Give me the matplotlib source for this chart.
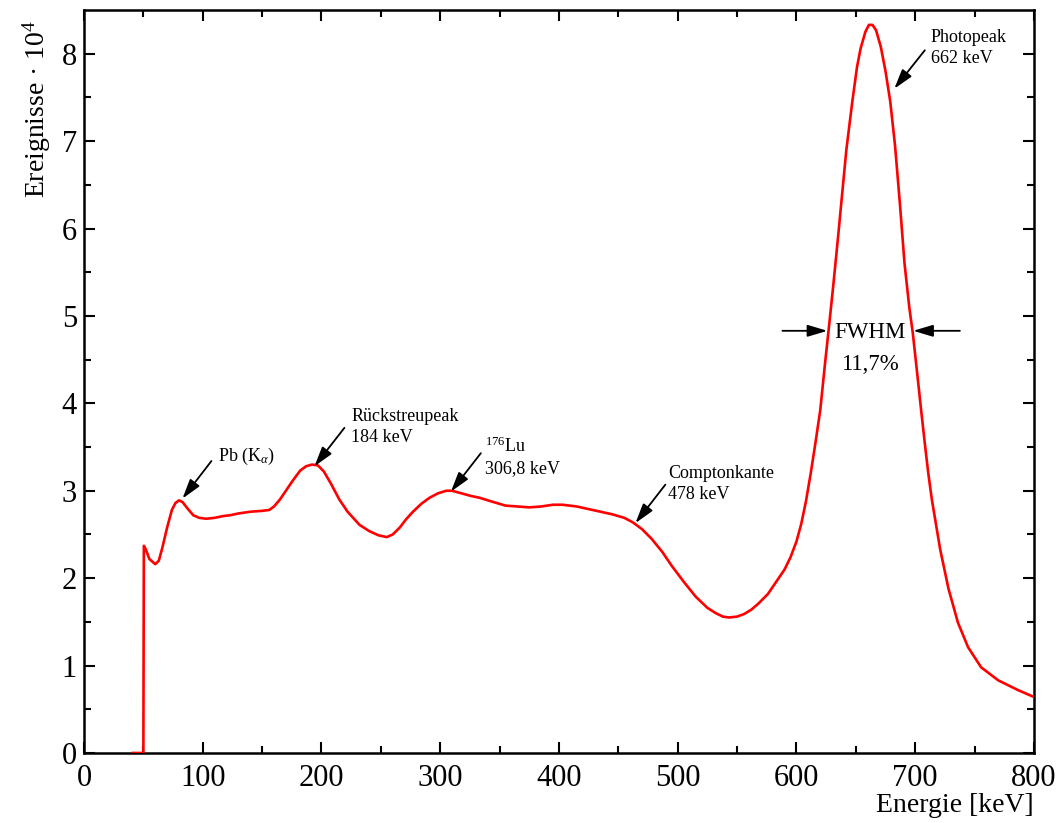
import numpy as np
import matplotlib
matplotlib.use('Agg')
import matplotlib.pyplot as plt

plt.rcParams['font.family'] = ['Liberation Serif', 'DejaVu Serif']
plt.rcParams['mathtext.fontset'] = 'custom'
plt.rcParams['mathtext.rm'] = 'Liberation Serif'
plt.rcParams['mathtext.it'] = 'Liberation Serif:italic'

# Cs-137 spectrum, energy in keV, counts in units of 1e4
energy = [41, 50, 50.4, 52, 55, 60, 63, 66, 70, 74, 77, 80, 83, 87, 92, 97,
          103, 110, 117, 123, 130, 140, 150, 156, 160, 165, 170, 176, 182,
          187, 192, 197, 202, 208, 215, 222, 232, 240, 248, 255, 260, 266,
          271, 277, 284, 291, 298, 305, 310, 318, 326, 333, 345, 355, 365,
          375, 385, 395, 403, 415, 425, 435, 445, 455, 462, 470, 478, 487,
          495, 505, 515, 525, 532, 538, 543, 550, 556, 562, 568, 576, 584,
          590, 595, 600, 604, 608, 612, 616, 620, 624, 627, 631, 635, 638,
          642, 647, 651, 654, 658, 661, 664, 667, 671, 675, 679, 683, 687,
          691, 695, 698, 702, 705, 708, 711, 714, 721, 728, 736, 744.5, 755.5,
          770, 786.5, 800]
counts = [0.0, 0.0, 2.37, 2.33, 2.22, 2.16, 2.20, 2.35, 2.58, 2.78, 2.86,
          2.89, 2.87, 2.80, 2.72, 2.69, 2.68, 2.69, 2.71, 2.72, 2.74, 2.76,
          2.77, 2.78, 2.82, 2.90, 3.00, 3.12, 3.23, 3.28, 3.30, 3.29, 3.22,
          3.08, 2.90, 2.76, 2.61, 2.54, 2.49, 2.47, 2.50, 2.58, 2.67, 2.76,
          2.85, 2.92, 2.97, 3.00, 3.00, 2.97, 2.94, 2.92, 2.87, 2.83, 2.82,
          2.81, 2.82, 2.84, 2.84, 2.82, 2.79, 2.76, 2.73, 2.69, 2.64, 2.56,
          2.45, 2.30, 2.14, 1.96, 1.79, 1.66, 1.60, 1.56, 1.55, 1.56, 1.59,
          1.64, 1.71, 1.82, 1.98, 2.10, 2.24, 2.42, 2.62, 2.88, 3.20, 3.55,
          3.92, 4.45, 4.83, 5.35, 5.90, 6.33, 6.90, 7.45, 7.85, 8.06, 8.25,
          8.33, 8.33, 8.27, 8.08, 7.80, 7.45, 6.95, 6.30, 5.60, 5.10, 4.80,
          4.30, 3.92, 3.55, 3.20, 2.90, 2.33, 1.88, 1.49, 1.21, 0.98, 0.83,
          0.72, 0.64]

# annotation labels: (text, text anchor, arrow tail, arrow tip)
labels = [
    (r'Pb (K$_{\alpha}$)', (112.6, 3.39), (107.3, 3.34), (82.9, 2.91)),
    ('Rückstreupeak\n184 keV', (225.0, 3.73), (219.3, 3.72), (194.1, 3.28)),
    ('$^{176}$Lu\n306,8 keV', (338.0, 3.39), (334.2, 3.43), (309.0, 2.99)),
    ('Comptonkante\n478 keV', (491.6, 3.08), (489.6, 3.07), (464.4, 2.63)),
    ('Photopeak\n662 keV', (713.2, 8.07), (708.1, 8.04), (682.4, 7.60)),
]
fwhm_y = 4.83
fwhm_left = (588.2, 626.0)
fwhm_right = (737.6, 698.3)

fig = plt.figure(figsize=(10.62, 8.23), dpi=100)
ax = fig.add_axes([0.0791, 0.0851, 0.8945, 0.9027])

ax.plot(energy, counts, color='#ff0000', lw=1.9, zorder=3)

arrow = dict(arrowstyle='-|>,head_length=0.6,head_width=0.18',
             color='black', lw=1.3, shrinkA=0, shrinkB=0, mutation_scale=20)

for text, pos, tail, tip in labels:
    ax.annotate('', xy=tip, xytext=tail, arrowprops=arrow)
    ax.text(pos[0], pos[1], text, fontsize=13, ha='left', va='center',
            linespacing=1.3)

ax.annotate('', xy=(fwhm_left[1], fwhm_y), xytext=(fwhm_left[0], fwhm_y),
            arrowprops=arrow)
ax.annotate('', xy=(fwhm_right[1], fwhm_y), xytext=(fwhm_right[0], fwhm_y),
            arrowprops=arrow)
ax.text(662, fwhm_y - 0.02, 'FWHM', fontsize=16.5, ha='center', va='center')
ax.text(662, fwhm_y - 0.38, '11,7%', fontsize=16.5, ha='center', va='center')

ax.set_xlim(0, 800)
ax.set_ylim(0, 8.5)
ax.set_xticks(np.arange(0, 801, 100))
ax.set_xticks(np.arange(50, 800, 100), minor=True)
ax.set_yticks(np.arange(0, 9, 1))
ax.set_yticks(np.arange(0.5, 8.5, 1), minor=True)

ax.tick_params(which='both', direction='in', top=True, right=True,
               labelsize=22, width=1.5)
ax.tick_params(axis='x', pad=8)
ax.tick_params(axis='y', pad=5)
ax.tick_params(which='major', length=8)
ax.tick_params(which='minor', length=5)
for s in ax.spines.values():
    s.set_linewidth(1.8)

ax.set_xlabel('Energie [keV]', fontsize=20, loc='right', labelpad=0)
ax.set_ylabel('Ereignisse · 10$^{4}$', fontsize=20, loc='top')
ax.yaxis.set_label_coords(-0.033, 0.987)

fig.savefig('out.png', dpi=100)
